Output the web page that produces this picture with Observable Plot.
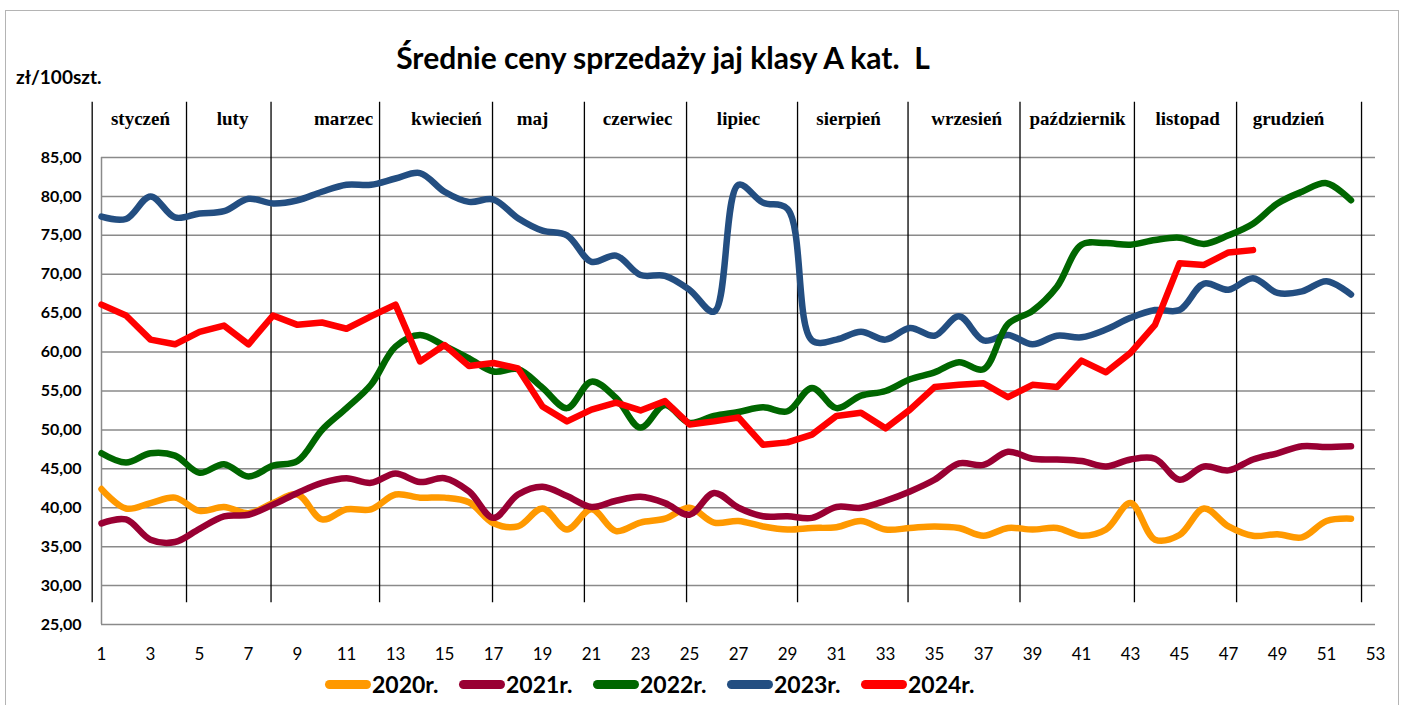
<!DOCTYPE html>
<html><head><meta charset="utf-8">
<script src="https://cdn.jsdelivr.net/npm/d3@7"></script>
<script src="https://cdn.jsdelivr.net/npm/@observablehq/plot@0.6"></script>
<style>
html,body{margin:0;padding:0;background:#fff;}
body{width:1405px;height:705px;position:relative;overflow:hidden;font-family:Lato,"DejaVu Sans",sans-serif;color:#000;}
#frame{position:absolute;left:5px;top:10px;width:1394px;height:720px;border:1.5px solid #b4b4b4;box-sizing:border-box;}
#title{position:absolute;left:663px;top:57px;transform:translate(-50%,-50%);font-weight:bold;font-size:30px;white-space:pre;}
#unit{position:absolute;left:16px;top:76px;transform:translateY(-50%);font-weight:bold;font-size:19px;}
#chart{position:absolute;left:0;top:90px;}
#legend{position:absolute;left:325px;top:684px;transform:translateY(-50%);display:flex;align-items:center;}
.item{display:flex;align-items:center;font-weight:bold;font-size:23px;width:134px;flex:none;}
.sw{width:46px;height:9px;border-radius:5px;margin-right:1px;}
</style></head><body>
<div id="frame"></div>
<div id="title">Średnie ceny sprzedaży jaj klasy A kat.  L</div>
<div id="unit">zł/100szt.</div>
<div id="chart"></div>
<div id="legend"></div>
<script>
const years = ["2020r.", "2021r.", "2022r.", "2023r.", "2024r."];
const colors = ["#FF9900", "#990033", "#006600", "#234E81", "#FF0000"];

const y2020 = [42.4,39.9,40.6,41.3,39.6,40.1,39.3,40.6,41.7,38.5,39.8,39.8,41.7,41.3,41.3,40.7,38.0,37.6,39.9,37.2,39.8,37.0,38.1,38.6,40.0,38.1,38.3,37.6,37.2,37.4,37.5,38.3,37.2,37.4,37.6,37.4,36.4,37.4,37.2,37.4,36.4,37.2,40.6,35.9,36.5,39.9,37.6,36.4,36.6,36.2,38.3,38.6];
const y2021 = [38.0,38.5,35.9,35.6,37.3,38.9,39.1,40.4,41.9,43.2,43.8,43.2,44.4,43.3,43.8,42.1,38.7,41.7,42.7,41.5,40.1,40.9,41.4,40.6,39.1,41.9,40.0,38.9,38.9,38.7,40.1,40.0,40.9,42.1,43.6,45.7,45.5,47.2,46.3,46.2,46.0,45.3,46.2,46.3,43.6,45.3,44.8,46.2,47.0,47.9,47.8,47.9];
const y2022 = [47.0,45.8,47.0,46.7,44.5,45.6,44.0,45.4,46.0,50.0,52.8,55.8,60.7,62.2,60.8,59.2,57.5,57.8,55.4,52.8,56.2,54.1,50.3,53.2,50.9,51.8,52.3,52.9,52.4,55.4,52.8,54.4,55.0,56.5,57.4,58.7,57.8,63.6,65.3,68.4,73.8,74.0,73.8,74.4,74.7,73.9,75.0,76.5,79.1,80.6,81.7,79.5];
const y2023 = [77.4,77.1,80.0,77.3,77.8,78.1,79.7,79.1,79.5,80.6,81.5,81.5,82.3,83.0,80.6,79.3,79.6,77.2,75.6,75.0,71.6,72.4,69.9,69.8,68.0,65.2,81.5,79.2,78.4,61.5,61.6,62.6,61.6,63.1,62.1,64.6,61.5,62.2,61.0,62.1,61.9,62.9,64.4,65.4,65.4,68.8,68.0,69.5,67.6,67.8,69.1,67.4];
const y2024 = [66.1,64.7,61.6,61.0,62.6,63.4,61.0,64.7,63.5,63.8,63.0,64.6,66.1,58.8,60.9,58.2,58.6,57.9,53.0,51.1,52.6,53.5,52.5,53.7,50.7,51.1,51.6,48.1,48.4,49.4,51.8,52.2,50.2,52.6,55.5,55.8,56.0,54.2,55.8,55.5,58.9,57.4,59.9,63.5,71.4,71.2,72.8,73.1];

const months = ["styczeń","luty","marzec","kwiecień","maj","czerwiec","lipiec","sierpień","wrzesień","październik","listopad","grudzień"];
const monthLabelWeek = [2.59,6.35,10.88,15.08,18.59,22.88,27.0,31.49,36.31,40.84,45.33,49.45];
const monthBounds = [0.62,4.47,7.92,12.35,16.96,20.71,24.88,29.41,33.92,38.49,43.16,47.33,52.43];

const xTicks = d3.range(1, 54, 2);
const yTicks = d3.range(25, 86, 5);

const toRows = (arr, year) => arr.map((v, i) => ({week: i + 1, value: v, year}));
// drawing order: 2020, 2021, 2023, 2022 (smoothed), then 2024 on top
const smoothRows = [
  ...toRows(y2020, years[0]),
  ...toRows(y2021, years[1]),
  ...toRows(y2023, years[3]),
  ...toRows(y2022, years[2])
];
const rows2024 = toRows(y2024, years[4]);

const chart = Plot.plot({
  width: 1405, height: 574,
  marginLeft: 101, marginRight: 30, marginTop: 67, marginBottom: 40,
  style: {fontFamily: "Lato, sans-serif", fontSize: "16px", color: "#000", background: "transparent", overflow: "visible"},
  x: {domain: [1, 53]},
  y: {domain: [25, 85]},
  color: {domain: years, range: colors},
  marks: [
    Plot.gridY(yTicks, {stroke: "#8a8a8a", strokeOpacity: 1, strokeWidth: 1.5}),
    Plot.ruleX([1], {y1: 25, y2: 85, stroke: "#8a8a8a", strokeWidth: 1.5}),
    Plot.ruleX(monthBounds, {x: d => d, y1: 27.8, y2: 92.1, stroke: "#000", strokeWidth: 1.3}),
    Plot.text(months, {x: (d, i) => monthLabelWeek[i], text: d => d, frameAnchor: "top", dy: -46,
      fontFamily: "Liberation Serif", fontWeight: "bold", fontSize: 19}),
    Plot.axisY({ticks: yTicks, tickSize: 0, tickPadding: 20, label: null,
      tickFormat: d => d.toFixed(2).replace(".", ","), fontWeight: "bold", fontSize: 16}),
    Plot.axisX({ticks: xTicks, tickSize: 0, tickPadding: 23, label: null, fontSize: 17}),
    Plot.line(smoothRows, {x: "week", y: "value", z: "year", stroke: "year", strokeWidth: 6.5,
      curve: "catmull-rom", strokeLinejoin: "round", strokeLinecap: "round"}),
    Plot.line(rows2024, {x: "week", y: "value", z: "year", stroke: "year", strokeWidth: 6.5,
      curve: "linear", strokeLinejoin: "round", strokeLinecap: "round"})
  ]
});
document.getElementById("chart").appendChild(chart);

const legend = document.getElementById("legend");
years.forEach((y, i) => {
  const it = document.createElement("div");
  it.className = "item";
  const sw = document.createElement("div");
  sw.className = "sw";
  sw.style.background = colors[i];
  const t = document.createElement("span");
  t.textContent = y;
  it.appendChild(sw); it.appendChild(t);
  legend.appendChild(it);
});
</script>
</body></html>
